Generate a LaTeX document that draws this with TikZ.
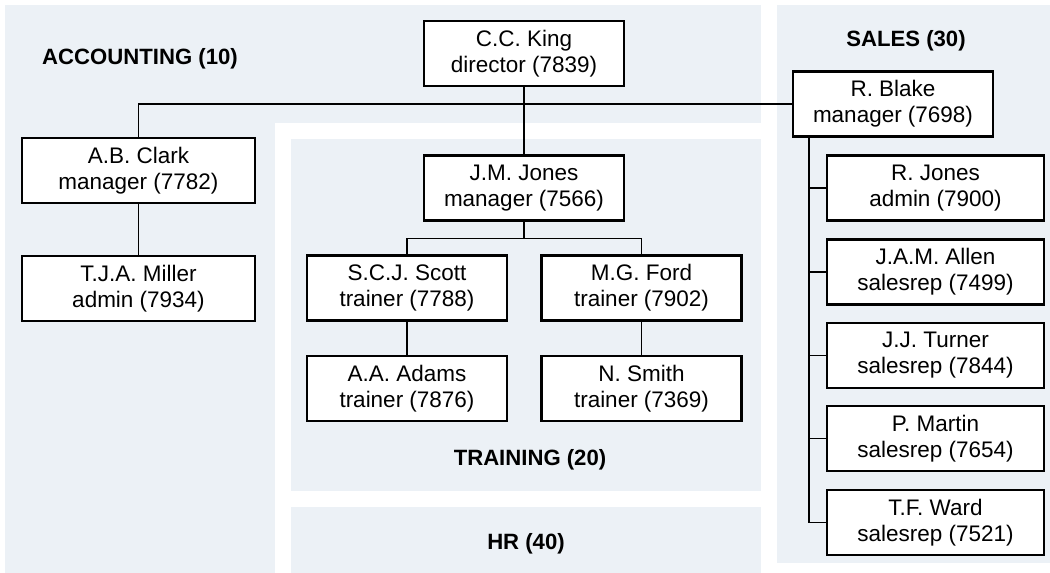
\documentclass[tikz,border=0pt]{standalone}
\usepackage{fontspec}
\setmainfont{Liberation Sans}
\usepackage{xcolor}
\usepackage{tikz}
\usetikzlibrary{calc, positioning}

\definecolor{deptbg}{RGB}{236,241,246}

\begin{document}
\begin{tikzpicture}[x=0.02cm, y=-0.02cm,
    emp/.style={draw, line width=1.2pt, fill=white, align=center, inner sep=0pt,
        minimum width=4.0cm, minimum height=1.3cm, font=\fontsize{12.8}{14.8}\selectfont},
    wide/.style={minimum width=4.66cm},
    rep/.style={minimum width=4.34cm},
    dept/.style={font=\fontsize{12.6}{15}\selectfont\bfseries},
    link/.style={line width=1pt}]
    \useasboundingbox (0,0) rectangle (1050,573);

    % Nền các phòng ban
    \fill[deptbg] (5,5) rectangle (761,573);
    \fill[white] (275,123) rectangle (777,573);
    \fill[deptbg] (291,139) rectangle (761,491);
    \fill[deptbg] (291,507) rectangle (761,573);
    \fill[deptbg] (777,5) rectangle (1050,563);

    % Tên phòng ban
    \node[dept] (acc) at (140,59) {ACCOUNTING (10)};
    \node[dept] (sal) at (906,41) {SALES (30)};
    \node[dept] (tra) at (530,460) {TRAINING (20)};
    \node[dept] (hr) at (526,544) {HR (40)};

    % Nhân viên
    \node[emp] (king) at (524,53.5) {C.C. King\\director (7839)};
    \node[emp] (blake) at (893,104) {R. Blake\\manager (7698)};
    \node[emp, wide] (clark) at (138.5,170.5) {A.B. Clark\\manager (7782)};
    \node[emp, wide] (miller) at (138.5,288.5) {T.J.A. Miller\\admin (7934)};
    \node[emp] (jones) at (524,188) {J.M. Jones\\manager (7566)};
    \node[emp] (scott) at (407,288) {S.C.J. Scott\\trainer (7788)};
    \node[emp] (ford) at (641.5,288) {M.G. Ford\\trainer (7902)};
    \node[emp] (adams) at (407,388.5) {A.A. Adams\\trainer (7876)};
    \node[emp] (smith) at (641.5,388.5) {N. Smith\\trainer (7369)};
    \node[emp, rep] (rjones) at (935.5,188) {R. Jones\\admin (7900)};
    \node[emp, rep] (allen) at (935.5,272) {J.A.M. Allen\\salesrep (7499)};
    \node[emp, rep] (turner) at (935.5,355.5) {J.J. Turner\\salesrep (7844)};
    \node[emp, rep] (martin) at (935.5,438.5) {P. Martin\\salesrep (7654)};
    \node[emp, rep] (ward) at (935.5,522.5) {T.F. Ward\\salesrep (7521)};

    % Đường nối
    \draw[link] (king) -- (jones);
    \draw[link] (clark.north) |- (blake.west);
    \draw[link] (clark) -- (miller);
    \draw[link] (jones.south) -- ++(0,17) -| (scott.north);
    \draw[link] (jones.south) -- ++(0,17) -| (ford.north);
    \draw[link] (scott) -- (adams);
    \draw[link] (ford) -- (smith);
    \foreach \e in {rjones, allen, turner, martin, ward}
        \draw[link] ([xshift=0.34cm]blake.south west) |- (\e.west);
\end{tikzpicture}
\end{document}
